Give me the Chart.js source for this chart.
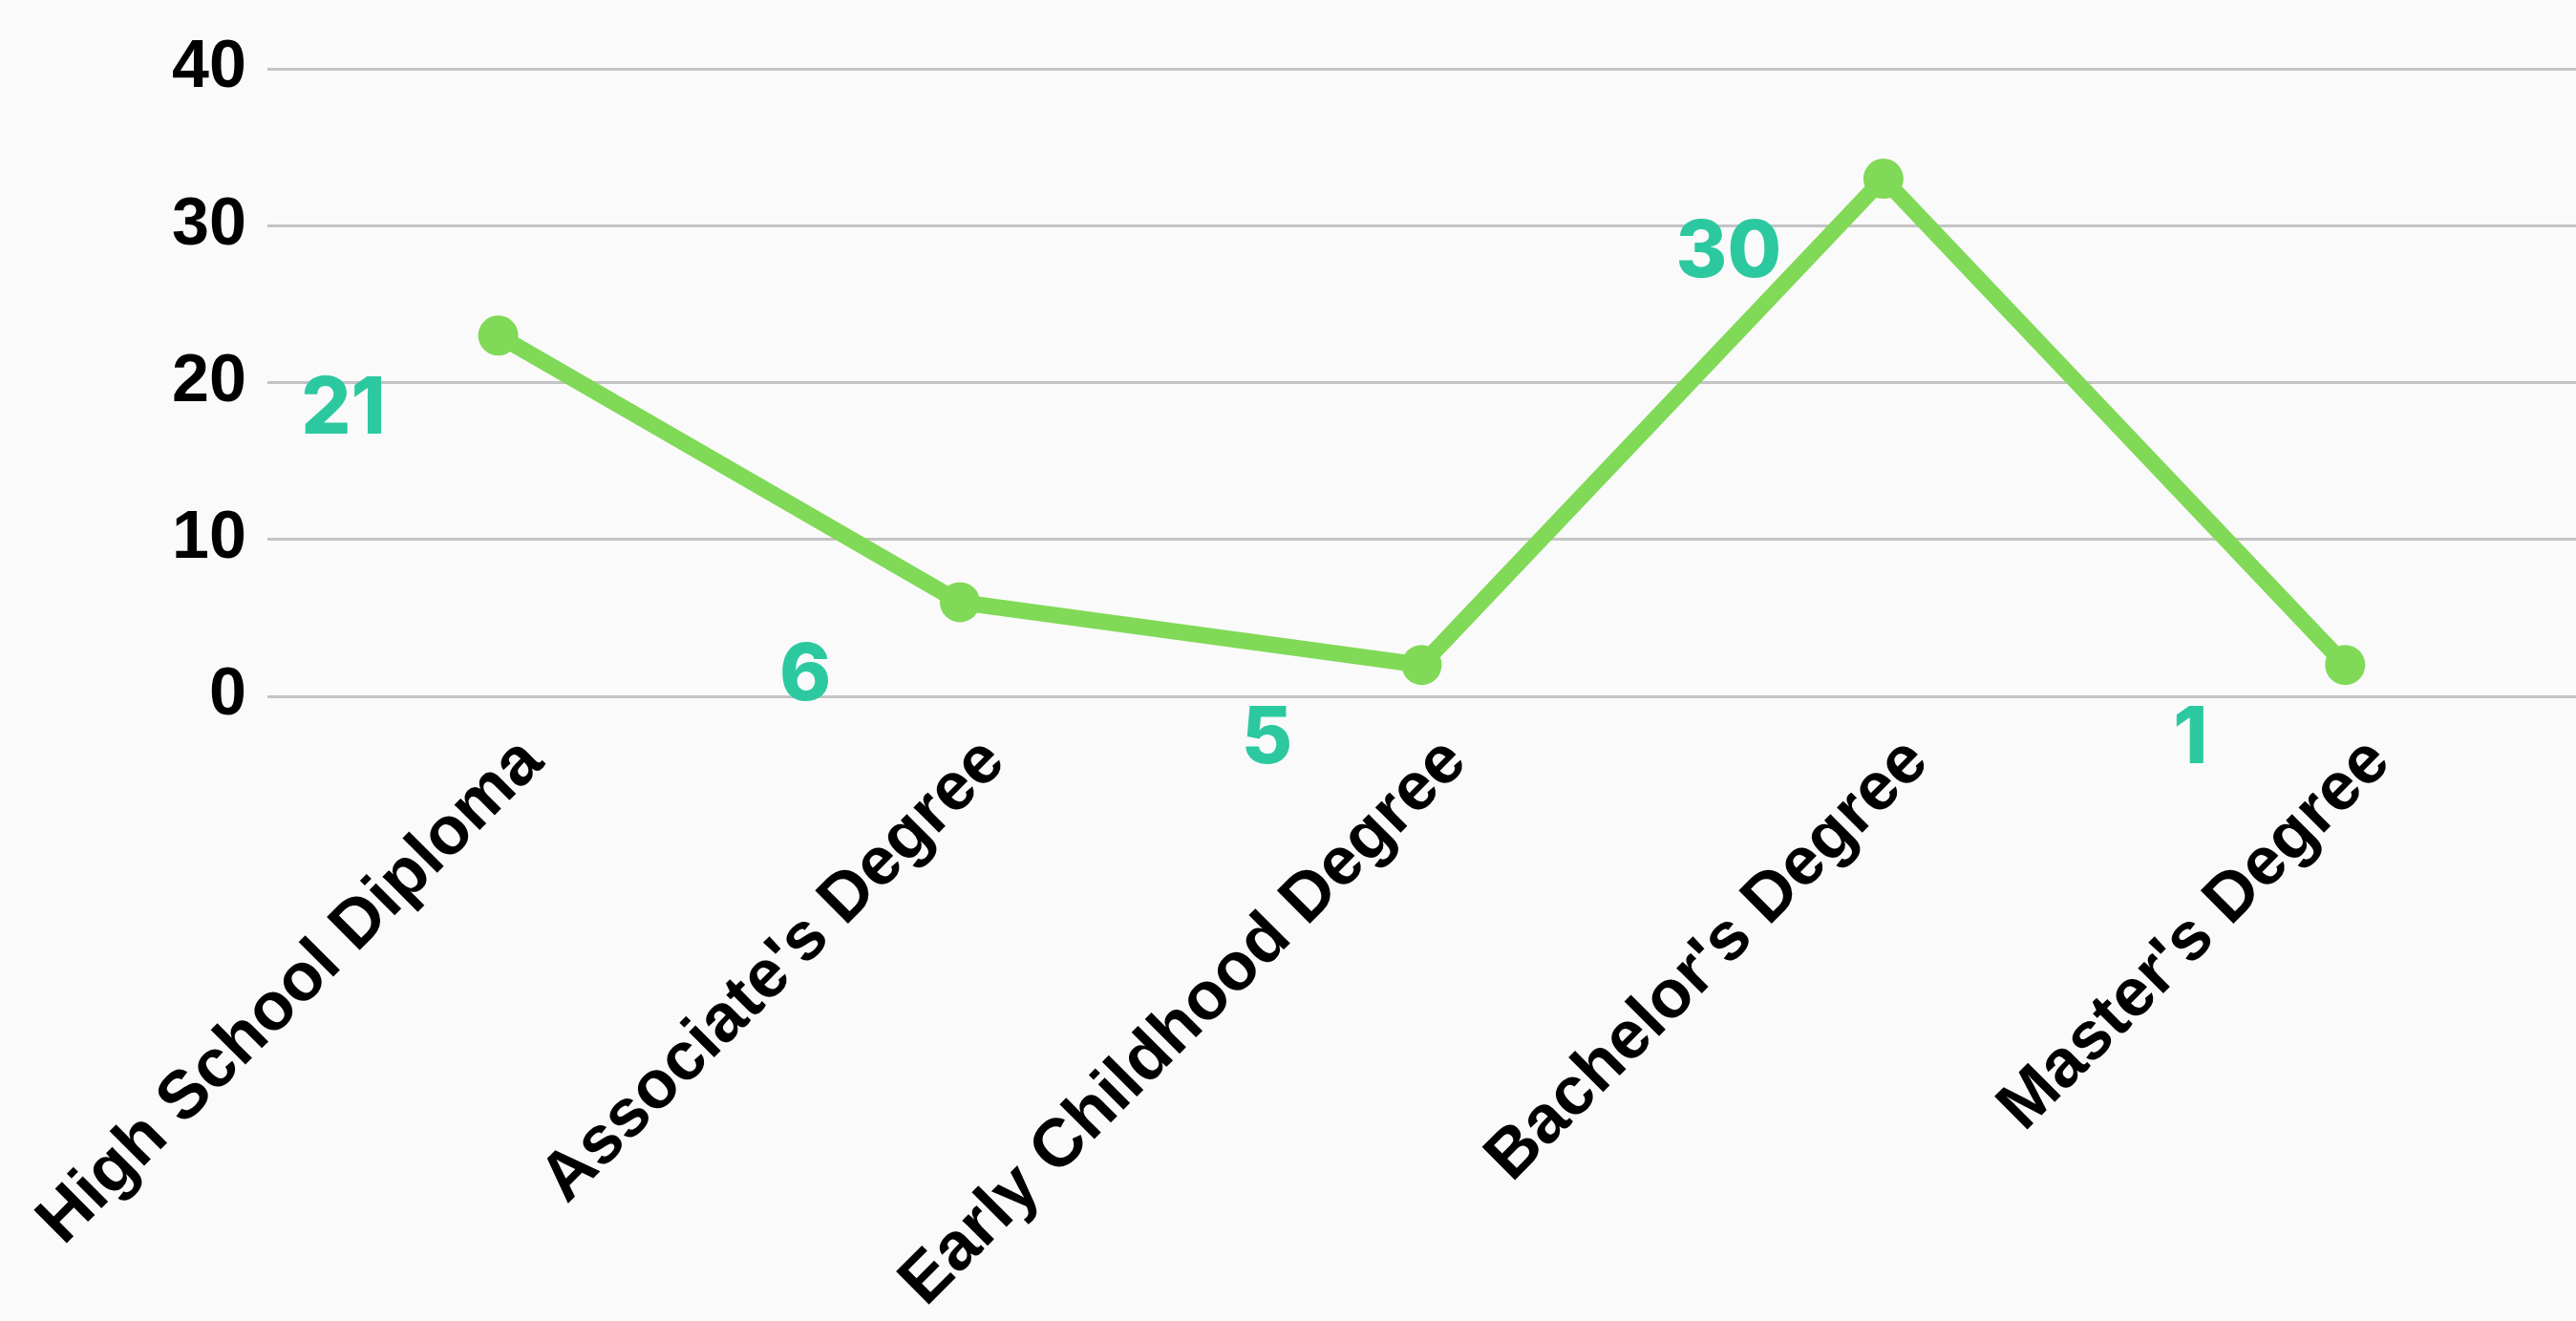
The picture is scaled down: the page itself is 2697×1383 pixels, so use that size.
<!DOCTYPE html>
<html>
<head>
<meta charset="utf-8">
<script src="https://cdn.jsdelivr.net/npm/chart.js@4/dist/chart.umd.min.js"></script>
<style>
  html, body { margin: 0; padding: 0; background: #fafafa; }
  canvas { display: block; }
</style>
</head>
<body>
<canvas id="degree-line-chart" width="2697" height="1383"></canvas>
<script>
// categories and values
const degrees = ["High School Diploma", "Associate's Degree", "Early Childhood Degree", "Bachelor's Degree", "Master's Degree"];
const counts = [23, 6, 2, 33, 2];
// the teal numbers printed beside each point
const pointLabels = ["21", "6", "5", "30", "1"];
const yTicks = [0, 10, 20, 30, 40];

const axisFont = { family: "'Liberation Sans', Arial, sans-serif", size: 71, weight: "bold" };

// draws the teal numbers down-left of each point
const numberLabels = {
  id: "numberLabels",
  afterDatasetsDraw(chart) {
    const ctx = chart.ctx;
    const meta = chart.getDatasetMeta(0);
    ctx.save();
    ctx.fillStyle = "#2cc9a0";
    ctx.font = "800 82px Inter, 'Open Sans', sans-serif";
    ctx.textAlign = "center";
    ctx.textBaseline = "middle";
    meta.data.forEach((pt, i) => {
      ctx.fillText(pointLabels[i], pt.x - 162, pt.y + 78);
    });
    ctx.restore();
  }
};

new Chart("degree-line-chart", {
  type: "line",
  data: {
    labels: degrees,
    datasets: [
      {
        data: counts,
        borderColor: "#80d957",
        backgroundColor: "#80d957",
        borderWidth: 17,
        pointRadius: 21,
        pointBorderWidth: 0,
        pointHoverRadius: 21,
        tension: 0,
        fill: false
      }
    ]
  },
  options: {
    responsive: false,
    animation: false,
    layout: { autoPadding: false, padding: { left: 158, top: 72, right: 0, bottom: 0 } },
    plugins: {
      legend: { display: false },
      tooltip: { enabled: false }
    },
    scales: {
      x: {
        offset: true,
        grid: { display: false, drawTicks: false },
        border: { display: false },
        ticks: {
          color: "#000",
          font: axisFont,
          autoSkip: false,
          maxRotation: 45,
          minRotation: 45,
          padding: 27,
          labelOffset: 36
        },
        afterFit(scale) {
          scale.height = 1383 - 729;
          scale.paddingLeft = 0;
          scale.paddingRight = 0;
        }
      },
      y: {
        min: 0,
        max: 40,
        afterBuildTicks(scale) {
          scale.ticks = yTicks.map(v => ({ value: v }));
        },
        grid: { color: "#c4c4c4", lineWidth: 3, drawTicks: false },
        border: { display: false },
        ticks: {
          color: "#000",
          font: { family: "'Liberation Sans', Arial, sans-serif", size: 70, weight: "bold" },
          padding: 22
        }
      }
    }
  },
  plugins: [numberLabels]
});
</script>
</body>
</html>
